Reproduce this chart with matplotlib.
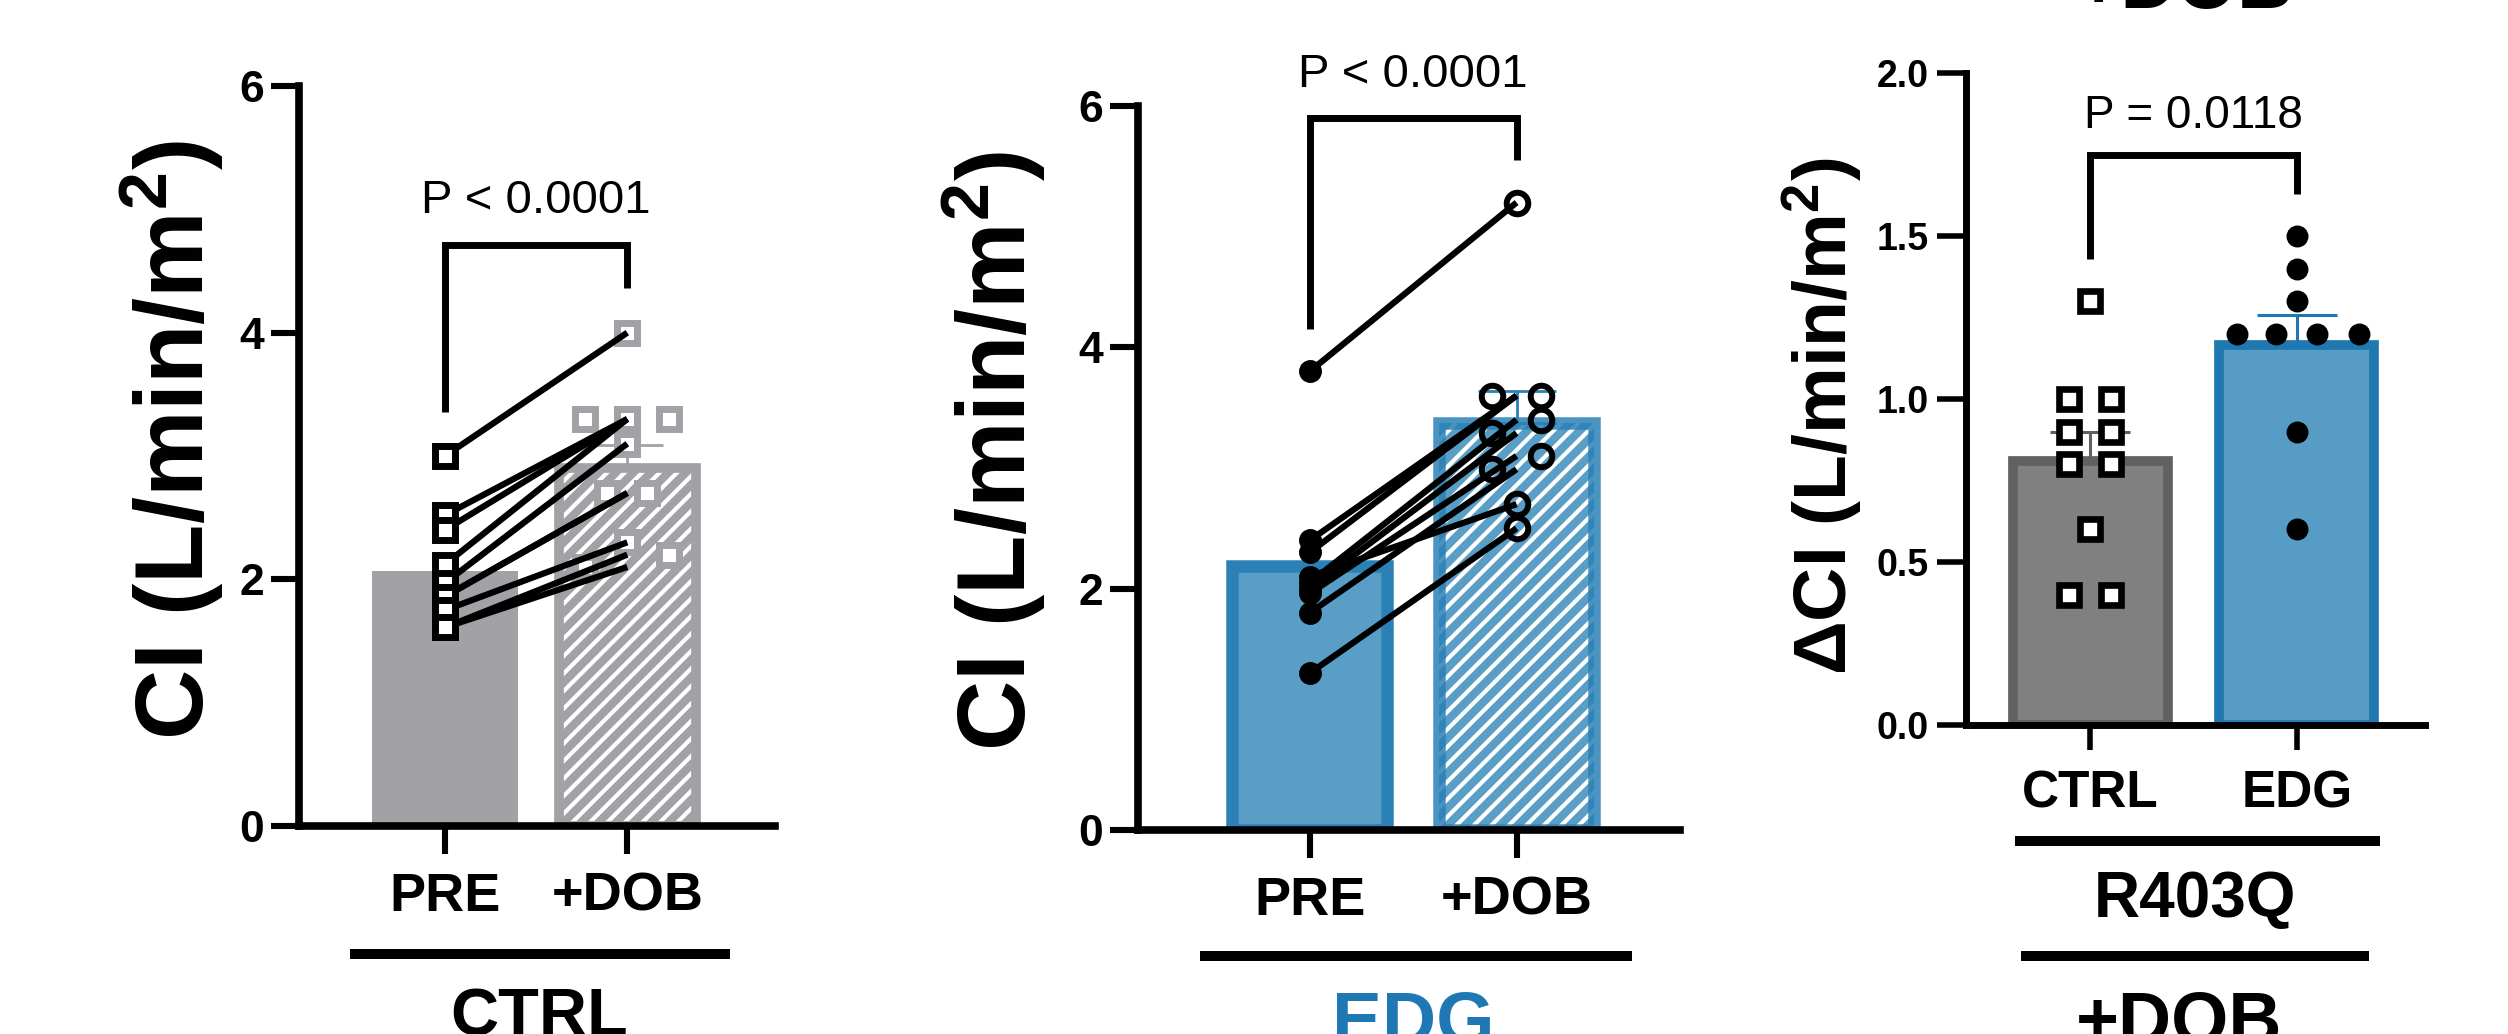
import numpy as np
import matplotlib
matplotlib.use("Agg")
import matplotlib.pyplot as plt
from matplotlib.lines import Line2D

plt.rcParams['font.family'] = ['Liberation Sans', 'DejaVu Sans']
plt.rcParams['mathtext.fontset'] = 'custom'
plt.rcParams['mathtext.rm'] = 'Liberation Sans'
plt.rcParams['mathtext.bf'] = 'Liberation Sans:bold'
plt.rcParams['mathtext.it'] = 'Liberation Sans:italic'

# ---------------- data ----------------
conditions = ["PRE", "+DOB"]
ctrl_pre = [3.0, 2.52, 2.40, 2.12, 1.97, 1.86, 1.86, 1.75, 1.61, 1.61]
ctrl_dob = [4.0, 3.3, 3.3, 3.3, 3.1, 2.7, 2.7, 2.3, 2.2, 2.1]
ctrl_dob_jitter = [0, -0.23, 0, 0.23, 0, -0.11, 0.11, 0, 0.23, -0.23]

edg_pre = [3.8, 2.4, 2.3, 2.1, 2.05, 2.0, 1.96, 1.8, 1.3]
edg_dob = [5.2, 3.6, 3.6, 2.7, 3.4, 3.29, 3.1, 2.99, 2.5]
edg_dob_jitter = [0, -0.12, 0.12, 0, 0.12, -0.12, 0.12, -0.12, 0]

groups3 = ["CTRL", "EDG"]
delta_ctrl = [1.3, 1.0, 1.0, 0.9, 0.9, 0.8, 0.8, 0.6, 0.4, 0.4]
delta_ctrl_jitter = [0, -0.1, 0.1, -0.1, 0.1, -0.1, 0.1, 0, -0.1, 0.1]
delta_edg = [1.5, 1.4, 1.3, 1.2, 1.2, 1.2, 1.2, 0.9, 0.6]
delta_edg_jitter = [0, 0, 0, -0.29, -0.1, 0.1, 0.3, 0, 0]

p_texts = ["P < 0.0001", "P < 0.0001", "P = 0.0118"]
yticks12 = [0, 2, 4, 6]
yticks3 = [0.0, 0.5, 1.0, 1.5, 2.0]

# ---------------- helpers ----------------
W, H = 2508, 1034
fig = plt.figure(figsize=(W / 100, H / 100), dpi=100)

def fx(x):
    return x / W

def fy(y):
    return 1 - y / H

def mean(v):
    return float(np.mean(v))

def sem(v):
    return float(np.std(v, ddof=1) / np.sqrt(len(v)))

GRAY1 = '#A2A2A6'
BLUE_F = '#599EC7'
BLUE_E = '#2B80B6'
BLUE_T = '#1F78B4'

def style_axes(ax, lw, ylen, xlen, ylab_size, xlab_size, ypad, xpad):
    for s in ['top', 'right']:
        ax.spines[s].set_visible(False)
    for s in ['left', 'bottom']:
        ax.spines[s].set_linewidth(lw)
        ax.spines[s].set_capstyle('projecting')
    ax.tick_params(axis='y', length=ylen, width=lw * 0.8, labelsize=ylab_size, pad=ypad)
    ax.tick_params(axis='x', length=xlen, width=lw * 0.8, labelsize=xlab_size, pad=xpad)
    for t in ax.get_yticklabels() + ax.get_xticklabels():
        t.set_fontweight('bold')

def bracket(ax, x0, x1, yl, ytop, yr, text, tsize, ty):
    ax.plot([x0, x0, x1, x1], [yl, ytop, ytop, yr], color='black', lw=5,
            solid_joinstyle='miter', solid_capstyle='butt', clip_on=False, zorder=6)
    ax.text((x0 + x1) / 2, ty, text, ha='center', va='baseline', fontsize=tsize)

def hatch_bar(ax, patch, spacing_px=17.5, lw=3.0):
    """White diagonal hatch clipped to a bar patch."""
    x0, y0 = patch.get_x(), patch.get_y()
    w, h = patch.get_width(), patch.get_height()
    p0 = ax.transData.transform((x0, y0))
    p1 = ax.transData.transform((x0 + w, y0 + h))
    hpx = p1[1] - p0[1]
    inv = ax.transData.inverted()
    for s in np.arange(p0[0] - hpx, p1[0] + spacing_px, spacing_px):
        a = inv.transform((s, p0[1]))
        b = inv.transform((s + hpx, p1[1]))
        ln, = ax.plot([a[0], b[0]], [a[1], b[1]], color='white', lw=lw,
                      solid_capstyle='butt', zorder=1.05)
        ln.set_clip_path(patch)

# ---------------- panel 1 ----------------
ax1 = fig.add_axes([fx(299), fy(826), fx(775) - fx(299), fy(86) - fy(826)])
ax1.set_xlim(-0.80, 1.81)
ax1.set_ylim(0, 6)
ax1.bar(0, mean(ctrl_pre), width=0.80, color=GRAY1, linewidth=0, zorder=1)
b1 = ax1.bar(1, mean(ctrl_dob), width=0.75, facecolor=GRAY1, linewidth=0, zorder=1)
hatch_bar(ax1, b1[0])
ax1.bar(1, mean(ctrl_dob), width=0.75, fill=False, edgecolor=GRAY1, linewidth=7, zorder=1.1)
ax1.errorbar([1], [mean(ctrl_dob)], yerr=[[0], [sem(ctrl_dob)]], fmt='none',
             ecolor=GRAY1, elinewidth=2, capsize=26, capthick=2, zorder=2)
for a, b in zip(ctrl_pre, ctrl_dob):
    ax1.plot([0, 1], [a, b], color='black', lw=4.5, zorder=3, solid_capstyle='butt')
ax1.plot(np.array(ctrl_dob_jitter) + 1, ctrl_dob, 's', ms=15, mew=5, mec=GRAY1, mfc='white',
         zorder=2.5, linestyle='none')
ax1.plot(np.zeros(len(ctrl_pre)), ctrl_pre, 's', ms=15, mew=5, mec='black', mfc='white',
         zorder=4, linestyle='none')
ax1.set_xticks([0, 1])
ax1.set_xticklabels(conditions)
ax1.set_yticks(yticks12)
ax1.set_yticklabels([str(v) for v in yticks12])
style_axes(ax1, 5.5, 20, 20, 32, 39, 5, 13)
bracket(ax1, 0, 1, 3.36, 4.71, 4.36, p_texts[0], 34, 4.97)

# ---------------- panel 2 ----------------
ax2 = fig.add_axes([fx(1138), fy(830), fx(1680) - fx(1138), fy(106) - fy(830)])
ax2.set_xlim(-0.83, 1.79)
ax2.set_ylim(0, 6)
ax2.bar(0, mean(edg_pre), width=0.75, facecolor=BLUE_F, edgecolor=BLUE_E, linewidth=9, zorder=1)
b2 = ax2.bar(1, mean(edg_dob), width=0.75, facecolor=BLUE_F, linewidth=0, zorder=1)
hatch_bar(ax2, b2[0])
ax2.bar(1, mean(edg_dob), width=0.75, fill=False, edgecolor=(0.17, 0.5, 0.71, 0.85), linewidth=9, zorder=1.1)
ax2.errorbar([1], [mean(edg_dob)], yerr=[[0], [sem(edg_dob)]], fmt='none',
             ecolor=BLUE_E, elinewidth=2, capsize=28, capthick=2, zorder=2)
for a, b in zip(edg_pre, edg_dob):
    ax2.plot([0, 1], [a, b], color='black', lw=4.5, zorder=3, solid_capstyle='butt')
ax2.plot(np.array(edg_dob_jitter) + 1, edg_dob, 'o', ms=15.5, mew=4.3, mec='black', mfc='none',
         zorder=2.5, linestyle='none')
ax2.plot(np.zeros(len(edg_pre)), edg_pre, 'o', ms=14, mew=2.5, mec='black', mfc='black',
         zorder=4, linestyle='none')
ax2.set_xticks([0, 1])
ax2.set_xticklabels(conditions)
ax2.set_yticks(yticks12)
ax2.set_yticklabels([str(v) for v in yticks12])
style_axes(ax2, 5.5, 20, 20, 32, 39, 5, 13)
bracket(ax2, 0, 1, 4.15, 5.90, 5.55, p_texts[1], 34, 6.16)

# ---------------- panel 3 ----------------
ax3 = fig.add_axes([fx(1966), fy(725), fx(2425) - fx(1966), fy(73) - fy(725)])
ax3.set_xlim(-0.60, 1.62)
ax3.set_ylim(0, 2)
ax3.bar(0, mean(delta_ctrl), width=0.75, facecolor='#808080', edgecolor='#616161', linewidth=7, zorder=1)
ax3.bar(1, mean(delta_edg), width=0.75, facecolor='#579CC5', edgecolor='#1F78B0', linewidth=7, zorder=1)
ax3.errorbar([0], [mean(delta_ctrl)], yerr=[[0], [sem(delta_ctrl)]], fmt='none',
             ecolor='#616161', elinewidth=2.2, capsize=29, capthick=2.2, zorder=2)
ax3.errorbar([1], [mean(delta_edg)], yerr=[[0], [sem(delta_edg)]], fmt='none',
             ecolor=BLUE_T, elinewidth=2.2, capsize=29, capthick=2.2, zorder=2)
ax3.plot(np.array(delta_ctrl_jitter), delta_ctrl, 's', ms=14.6, mew=4.8, mec='black', mfc='white',
         zorder=4, linestyle='none')
ax3.plot(np.array(delta_edg_jitter) + 1, delta_edg, 'o', ms=14, mew=1.8, mec='black', mfc='black',
         zorder=4, linestyle='none')
ax3.set_xticks([0, 1])
ax3.set_xticklabels(groups3)
ax3.set_yticks(yticks3)
ax3.set_yticklabels([f"{v:.1f}" for v in yticks3])
style_axes(ax3, 5, 21, 18, 27, 37, 6, 14)
bracket(ax3, 0, 1, 1.43, 1.75, 1.63, p_texts[2], 33, 1.83)

# ---------------- y labels ----------------
ylab = r'CI (L/min/m$^{\mathbf{2}}$)'
fig.text(fx(172), fy(440), ylab, rotation=90, ha='center', va='center',
         rotation_mode='anchor', fontsize=70, fontweight='bold')
fig.text(fx(994), fy(451), ylab, rotation=90, ha='center', va='center',
         rotation_mode='anchor', fontsize=70, fontweight='bold')
fig.text(fx(1823), fy(416), r'ΔCI (L/min/m$^{\mathbf{2}}$)', rotation=90, ha='center', va='center',
         rotation_mode='anchor', fontsize=54, fontweight='bold')

# ---------------- group annotations ----------------
def hline(x0, x1, y, lw=7.2):
    fig.add_artist(Line2D([fx(x0), fx(x1)], [fy(y), fy(y)], color='black', lw=lw,
                          solid_capstyle='butt'))

hline(350, 730, 954)
hline(1200, 1632, 956)
hline(2015, 2380, 841)
hline(2021, 2369, 956)

fig.text(fx(539), fy(1035), "CTRL", ha='center', va='baseline', fontsize=48, fontweight='bold')
fig.text(fx(1413), fy(1044), "EDG", ha='center', va='baseline', fontsize=54, fontweight='bold', color=BLUE_T)
fig.text(fx(2195), fy(917), "R403Q", ha='center', va='baseline', fontsize=46, fontweight='bold')
fig.text(fx(2179), fy(1043), "+DOB", ha='center', va='baseline', fontsize=53, fontweight='bold')
fig.text(fx(2185), fy(8), "+DOB", ha='center', va='baseline', fontsize=56, fontweight='bold')

fig.savefig("out.png", dpi=100)
